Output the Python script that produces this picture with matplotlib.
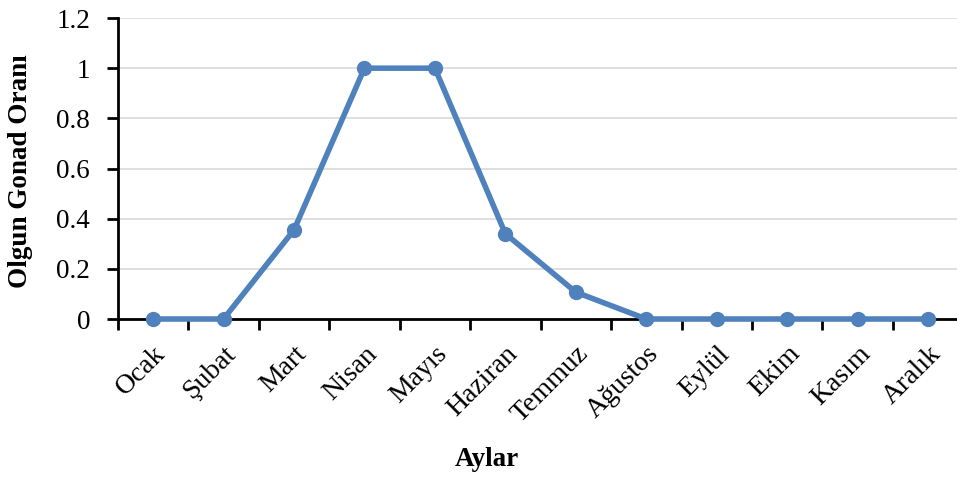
import numpy as np
import matplotlib.pyplot as plt

months = ['Ocak', 'Şubat', 'Mart', 'Nisan', 'Mayıs', 'Haziran', 'Temmuz',
          'Ağustos', 'Eylül', 'Ekim', 'Kasım', 'Aralık']
ratio = [0, 0, 0.355, 1, 1, 0.34, 0.107, 0, 0, 0, 0, 0]
yticks = [0, 0.2, 0.4, 0.6, 0.8, 1, 1.2]
yticklabels = ['0', '0.2', '0.4', '0.6', '0.8', '1', '1.2']

plt.rcParams['font.family'] = ['Liberation Serif', 'DejaVu Serif']

fig = plt.figure(figsize=(9.57, 4.79), dpi=100)
ax = fig.add_axes([0.1231, 0.334, 0.8836, 0.6284])

x = np.arange(len(months))
ax.plot(x, ratio, color='#4f81bd', lw=4, marker='o', ms=10,
        solid_joinstyle='round', zorder=3, clip_on=False)

ax.set_xlim(-0.5, 11.5)
ax.set_ylim(0, 1.2)
ax.set_yticks(yticks)
ax.set_yticklabels(yticklabels, fontsize=19.5)
ax.set_xticks(np.arange(-0.5, 12, 1), minor=False)
ax.set_xticklabels([])
ax.set_xticks(x, minor=True)
ax.set_xticklabels(months, minor=True, fontsize=20, rotation=45,
                   ha='right', va='top', rotation_mode='anchor')
ax.tick_params(axis='x', which='minor', length=0, pad=16)
ax.tick_params(axis='x', which='major', length=8, width=2, direction='out')
ax.tick_params(axis='y', length=8, width=2, direction='out', pad=12)

ax.grid(axis='y', color='#d9d9d9', lw=1.2)
ax.set_axisbelow(True)
for s in ['top', 'right']:
    ax.spines[s].set_visible(False)
ax.spines['left'].set_linewidth(2)
ax.spines['bottom'].set_linewidth(2)

ax.set_ylabel('Olgun Gonad Oranı', fontsize=19.5, fontweight='bold')
ax.yaxis.set_label_coords(-0.1, 0.49)
fig.text(0.509, 0.04, 'Aylar', fontsize=19.5, fontweight='bold', ha='center', va='center')

fig.savefig('out.png', dpi=100)
